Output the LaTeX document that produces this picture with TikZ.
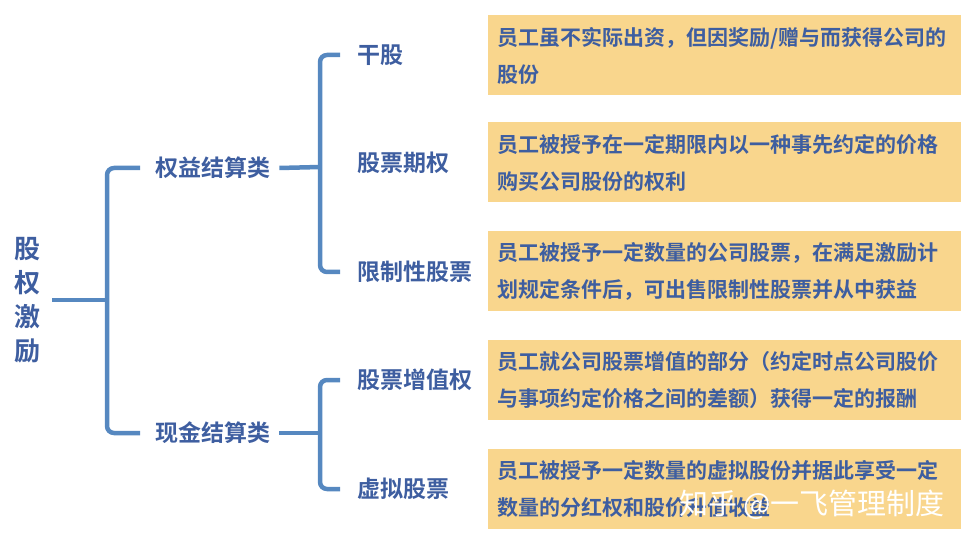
\documentclass[tikz,border=0pt]{standalone}
\usepackage{fontspec}
\setmainfont{Noto Sans CJK SC}[BoldFont={Noto Sans CJK SC Bold}]
\usetikzlibrary{positioning,calc}
\definecolor{lineblue}{RGB}{86,136,192}
\definecolor{textblue}{RGB}{62,94,160}
\definecolor{boxorange}{RGB}{249,214,141}
\tikzset{
  brace/.style={draw=lineblue,line width=4.5pt,rounded corners=7pt},
  lbl/.style={text=textblue,font=\fontsize{23}{23}\selectfont\bfseries,anchor=west,inner sep=0pt},
  descbox/.style={fill=boxorange,text=textblue,font=\fontsize{21}{37}\selectfont\bfseries,
    anchor=west,minimum height=80pt,text width=455pt,align=left,inner xsep=9pt}
}
\begin{document}
\begin{tikzpicture}[x=1pt,y=-1pt]
\useasboundingbox (0,0) rectangle (972,545);
\node[text=textblue,font=\fontsize{26}{34}\selectfont\bfseries,align=center,inner sep=0pt] (root) at (27,300) {股\\权\\激\\励};
\node[lbl] (eq) at (155,168) {权益结算类};
\node[lbl] (cash) at (155,433) {现金结算类};
\foreach \t/\y [count=\i] in {干股/55,股票期权/163,限制性股票/272,股票增值权/380,虚拟股票/489}
  \node[lbl] (l\i) at (357,\y) {\t};
\node[descbox] (b1) at (488,55.5) {员工虽不实际出资，但因奖励/赠与而获得公司的\\股份};
\node[descbox] (b2) at (488,162.5) {员工被授予在一定期限内以一种事先约定的价格\\购买公司股份的权利};
\node[descbox] (b3) at (488,271.5) {员工被授予一定数量的公司股票，在满足激励计\\划规定条件后，可出售限制性股票并从中获益};
\node[descbox] (b4) at (488,380) {员工就公司股票增值的部分（约定时点公司股价\\与事项约定价格之间的差额）获得一定的报酬};
\node[descbox] (b5) at (488,488.5) {员工被授予一定数量的虚拟股份并据此享受一定\\数量的分红权和股价升值收益};
\coordinate (j0) at (107,300);
\coordinate (j1) at (320,167);
\coordinate (j2) at (320,433);
\draw[brace] ([xshift=12pt]root.east) -- (j0);
\draw[brace] ([xshift=-15pt]eq.west) -- (j0 |- eq.west) -- (j0 |- cash.west) -- ([xshift=-15pt]cash.west);
\draw[brace] ([xshift=9pt]eq.east) -- (j1);
\draw[brace] ([xshift=-17pt]l1.west) -- (j1 |- l1.west) -- (j1 |- l3.west) -- ([xshift=-17pt]l3.west);
\draw[brace] ([xshift=9pt]cash.east) -- (j2);
\draw[brace] ([xshift=-17pt]l4.west) -- (j2 |- l4.west) -- (j2 |- l5.west) -- ([xshift=-17pt]l5.west);
% watermark
\node[text=white,font=\fontsize{29}{29}\selectfont] (wm) at (812,505) {知乎 @一飞管理制度};
\end{tikzpicture}
\end{document}
